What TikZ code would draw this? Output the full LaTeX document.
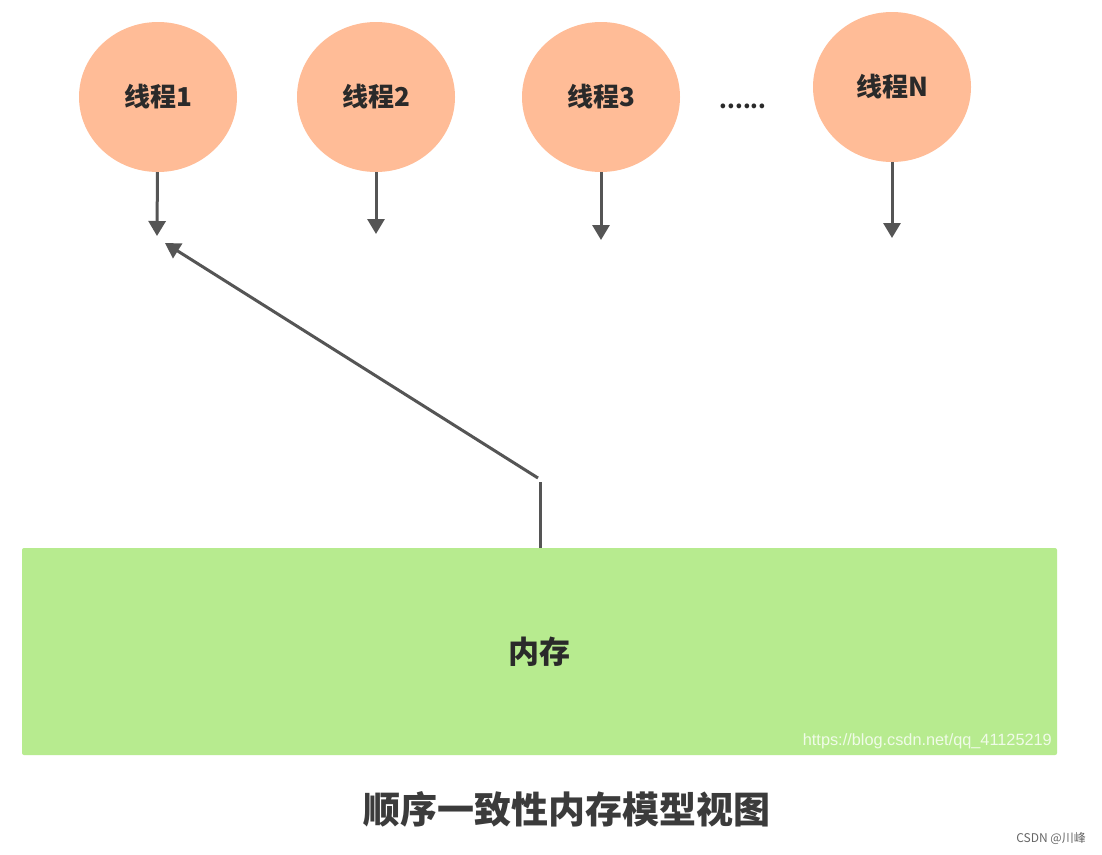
\documentclass[tikz,border=0pt]{standalone}
\usepackage{fontspec}
\setmainfont{Noto Sans CJK SC}
\newfontfamily\wmfont{Liberation Sans}
\usetikzlibrary{shapes.geometric,arrows.meta}
\definecolor{threadfill}{HTML}{FFBC97}
\definecolor{memfill}{HTML}{B7EB8F}
\definecolor{arrowgray}{HTML}{555555}
\definecolor{textdark}{HTML}{2A2A2A}
\tikzset{
  thread/.style={ellipse,fill=threadfill,minimum width=158pt,minimum height=150pt,
    inner sep=0pt,font=\fontsize{26}{26}\selectfont\bfseries,text=textdark},
  memory/.style={rectangle,fill=memfill,rounded corners=2pt,minimum width=1035pt,
    minimum height=207pt,font=\fontsize{31}{31}\selectfont\bfseries,text=textdark},
  arr/.style={draw=arrowgray,line width=3pt,-{Triangle[width=17pt,length=15pt]}},
  seg/.style={draw=arrowgray,line width=3pt}
}
\begin{document}
\begin{tikzpicture}[x=1pt,y=-1pt]
	\useasboundingbox[fill=white] (0,0) rectangle (1102,854);
	% threads
	\node[thread] (t1) at (158,97) {线程1};
	\node[thread] (t2) at (376,97) {线程2};
	\node[thread] (t3) at (601,97) {线程3};
	\node[thread] (tN) at (892,87) {线程N};
	\node[font=\fontsize{22}{22}\selectfont\bfseries,text=textdark] (dots) at (743,106) {......};
	% memory
	\node[memory] (mem) at (539.5,651.5) {内存};
	\node[font=\wmfont\fontsize{16.3}{16.3}\selectfont,text=white,opacity=0.8,anchor=east,inner sep=0pt] (wm) at (1052,741) {https://blog.csdn.net/qq\_41125219};
	% arrows
	\coordinate (a1) at (157,236);
	\coordinate (a2) at (376,234);
	\coordinate (a3) at (601,240);
	\coordinate (aN) at (892,238);
	\draw[arr] (t1) -- (a1);
	\draw[arr] (t2) -- (a2);
	\draw[arr] (t3) -- (a3);
	\draw[arr] (tN) -- (aN);
	\coordinate (k1) at (540,482);
	\coordinate (k2) at (538,478);
	\coordinate (back) at (165,243);
	\draw[seg] (mem.north -| k1) -- (k1);
	\draw[arr] (k2) -- (back);
	% title
	\node[font=\fontsize{37}{37}\selectfont\bfseries,text=black!77] (title) at (567,809) {顺序一致性内存模型视图};
	\node[font=\fontsize{12}{12}\selectfont,text=black!60,anchor=east,inner sep=0pt] (csdn) at (1086,838) {CSDN @川峰};
\end{tikzpicture}
\end{document}
